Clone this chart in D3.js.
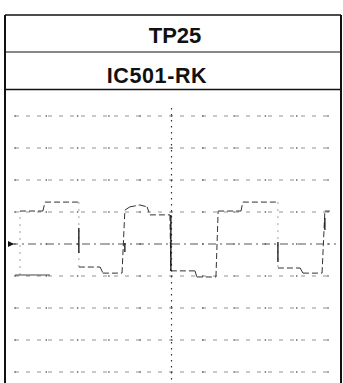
<!DOCTYPE html>
<html><head><meta charset="utf-8">
<script src="https://cdn.jsdelivr.net/npm/d3@7"></script>
<style>html,body{margin:0;padding:0;background:#fff;}svg{display:block;}</style>
</head><body>
<script>
// Titles
const title1 = "TP25";
const title2 = "IC501-RK";
// Graticule: 10 horizontal divisions, 8 vertical divisions
const xDivs = d3.range(0, 11);
const yDivs = d3.range(-4, 5);
// Main trace (time in div, level in div)
const traceT = [0.16,0.16,0.89,0.96,2.04,2.04,2.72,2.81,3.42,3.51,3.67,3.99,4.22,4.31,4.95,4.98,5.75,5.81,6.42,6.49,7.22,7.28,8.40,8.40,9.11,9.20,9.81,9.90,10.06];
const traceV = [-0.97,1.03,1.03,1.31,1.31,-0.72,-0.72,-0.91,-0.91,1.06,1.16,1.22,1.16,0.91,0.91,-0.84,-0.84,-1.03,-1.03,1.03,1.03,1.31,1.31,-0.75,-0.75,-0.91,-0.91,1.03,1.03];
// Second exposure low segment
const ghostT = [0.0, 1.12];
const ghostV = [-0.97, -0.97];
// Bright edge marks: [time, from level, to level]
const markT  = [2.04, 3.51, 4.98, 8.40, 9.90];
const markV0 = [0.50, 0.03, 0.91, 0.06, 0.81];
const markV1 = [-0.28, -0.25, -0.84, -0.56, 0.44];

const W = 343, H = 383;
const svg = d3.select("body").append("svg").attr("width", W).attr("height", H);
const x = d3.scaleLinear().domain([0, 10]).range([15, 328]);
const y = d3.scaleLinear().domain([-4, 4]).range([372, 116]);

// Frame
const ink = "#111";
svg.append("line").attr("x1",5).attr("x2",341).attr("y1",15).attr("y2",15).attr("stroke",ink).attr("stroke-width",1.4);
svg.append("line").attr("x1",5).attr("x2",341).attr("y1",52).attr("y2",52).attr("stroke",ink).attr("stroke-width",1.2);
svg.append("line").attr("x1",5).attr("x2",341).attr("y1",89.5).attr("y2",89.5).attr("stroke",ink).attr("stroke-width",1.4);
svg.append("line").attr("x1",5).attr("x2",5).attr("y1",15).attr("y2",H).attr("stroke",ink).attr("stroke-width",2);
svg.append("line").attr("x1",341).attr("x2",341).attr("y1",15).attr("y2",H).attr("stroke",ink).attr("stroke-width",2);

svg.append("text").attr("x",175).attr("y",43).attr("text-anchor","middle")
  .attr("font-family","Liberation Sans, Arial, sans-serif").attr("font-weight","bold").attr("font-size",22)
  .attr("fill",ink).text(title1);
svg.append("text").attr("x",157).attr("y",83).attr("text-anchor","middle")
  .attr("font-family","Liberation Sans, Arial, sans-serif").attr("font-weight","bold").attr("font-size",21.5)
  .attr("letter-spacing",0.6).attr("fill",ink).text(title2);

// Horizontal graticule lines
svg.append("g").selectAll("line").data(yDivs.filter(d => d !== 0)).join("line")
  .attr("x1", x(0)).attr("x2", x(10)).attr("y1", d => y(d)).attr("y2", d => y(d))
  .attr("stroke", "#777").attr("stroke-width", 0.8).attr("stroke-dasharray", "4,7");
// Intersection dots
const pts = [];
xDivs.forEach(a => yDivs.forEach(b => pts.push([a, b])));
svg.append("g").selectAll("rect").data(pts).join("rect")
  .attr("x", d => x(d[0]) - 0.7).attr("y", d => y(d[1]) - 0.7).attr("width", 1.4).attr("height", 1.4).attr("fill", "#555");
// Centre axes
svg.append("line").attr("x1", 10).attr("x2", 336).attr("y1", y(0)).attr("y2", y(0))
  .attr("stroke", "#444").attr("stroke-width", 0.9).attr("stroke-dasharray", "8,4,2,4");
svg.append("line").attr("x1", x(5)).attr("x2", x(5)).attr("y1", 108).attr("y2", H)
  .attr("stroke", "#333").attr("stroke-width", 1.2).attr("stroke-dasharray", "1.5,4.5");
// Ground marker
svg.append("path").attr("d", `M${x(0)-7},${y(0)-3}L${x(0)-1},${y(0)}L${x(0)-7},${y(0)+3}Z`).attr("fill", ink);

// Trace
const tr = traceT.map((t, i) => [t, traceV[i]]);
const segs = d3.pairs(tr);
svg.append("g").selectAll("line").data(segs).join("line")
  .attr("x1", d => x(d[0][0])).attr("y1", d => y(d[0][1]))
  .attr("x2", d => x(d[1][0])).attr("y2", d => y(d[1][1]))
  .attr("stroke", d => d[0][0] === d[1][0] ? "#888" : "#333")
  .attr("stroke-width", d => d[0][0] === d[1][0] ? 0.8 : 1)
  .attr("stroke-dasharray", d => d[0][0] === d[1][0] ? "2,5" : "6,3");
const line = d3.line().x(d => x(d[0])).y(d => y(d[1]));
svg.append("path").attr("d", line(ghostT.map((t, i) => [t, ghostV[i]])))
  .attr("fill", "none").attr("stroke", "#444").attr("stroke-width", 1.1);
svg.append("g").selectAll("line").data(markT).join("line")
  .attr("x1", d => x(d)).attr("x2", d => x(d))
  .attr("y1", (d, i) => y(markV0[i])).attr("y2", (d, i) => y(markV1[i]))
  .attr("stroke", ink).attr("stroke-width", 1.3);
</script>
</body></html>
